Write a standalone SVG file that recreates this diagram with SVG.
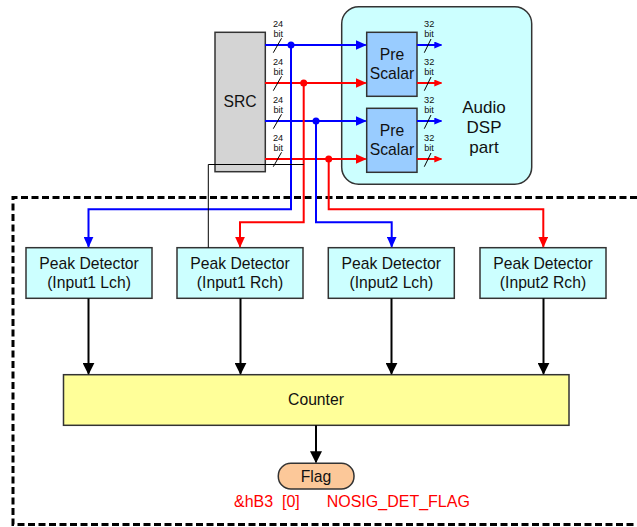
<svg xmlns="http://www.w3.org/2000/svg" width="637" height="527" viewBox="0 0 637 527">
<style>
  text { font-family: "Liberation Sans", Arial, sans-serif; fill: #111; }
  .t { font-size: 15.7px; text-anchor: middle; }
  .big { font-size: 17px; text-anchor: middle; }
  .small { font-size: 9.2px; text-anchor: middle; }
  .red { font-size: 16px; fill: #ff0000; }
  .box { stroke: #333; stroke-width: 1.5; }
  .peak { fill: #ccffff; }
  .blue { stroke: #0000ff; stroke-width: 2; fill: none; }
  .redl { stroke: #ff0000; stroke-width: 2; fill: none; }
  .blk { stroke: #000; stroke-width: 2; fill: none; }
  .thin { stroke: #000; stroke-width: 1; fill: none; }
  .slash { stroke: #000; stroke-width: 1; }
</style>
<defs>
  <marker id="aB" markerUnits="userSpaceOnUse" markerWidth="11" markerHeight="10" refX="10" refY="5" orient="auto"><path d="M0,0 L11,5 L0,10 z" fill="#0000ff"/></marker>
  <marker id="aR" markerUnits="userSpaceOnUse" markerWidth="11" markerHeight="10" refX="10" refY="5" orient="auto"><path d="M0,0 L11,5 L0,10 z" fill="#ff0000"/></marker>
  <marker id="sB" markerUnits="userSpaceOnUse" markerWidth="8" markerHeight="7" refX="7" refY="3.5" orient="auto"><path d="M0,0 L8,3.5 L0,7 z" fill="#0000ff"/></marker>
  <marker id="sR" markerUnits="userSpaceOnUse" markerWidth="8" markerHeight="7" refX="7" refY="3.5" orient="auto"><path d="M0,0 L8,3.5 L0,7 z" fill="#ff0000"/></marker>
  <marker id="aK" markerUnits="userSpaceOnUse" markerWidth="12" markerHeight="12" refX="11" refY="6" orient="auto"><path d="M0,0 L12,6 L0,12 z" fill="#000"/></marker>
</defs>

<!-- dashed frame -->
<path d="M637,197.5 H13 V524.5 H637" fill="none" stroke="#000" stroke-width="3" stroke-dasharray="7 3.5"/>

<g id="audio-dsp">
  <rect x="341.7" y="6.7" width="190" height="177.6" rx="17" fill="#ccffff" class="box"/>
  <text class="big" x="484" y="113">Audio</text>
  <text class="big" x="484" y="133">DSP</text>
  <text class="big" x="484" y="153">part</text>
</g>

<g id="src">
  <rect x="215" y="32.3" width="50.3" height="139.4" fill="#d4d4d4" class="box"/>
  <text class="t" x="240" y="107">SRC</text>
</g>

<g id="prescalar1">
  <rect x="366.7" y="32.3" width="50.3" height="64" fill="#99ccff" class="box"/>
  <text class="t" x="392" y="60">Pre</text>
  <text class="t" x="392" y="79">Scalar</text>
</g>
<g id="prescalar2">
  <rect x="366.7" y="108.3" width="50.3" height="64" fill="#99ccff" class="box"/>
  <text class="t" x="392" y="136">Pre</text>
  <text class="t" x="392" y="155">Scalar</text>
</g>

<g id="peak1">
  <rect x="26" y="247.7" width="126" height="50.6" class="box peak"/>
  <text class="t" x="89" y="269.3">Peak Detector</text>
  <text class="t" x="89" y="288.3">(Input1 Lch)</text>
</g>
<g id="peak2">
  <rect x="177" y="247.7" width="126" height="50.6" class="box peak"/>
  <text class="t" x="240" y="269.3">Peak Detector</text>
  <text class="t" x="240" y="288.3">(Input1 Rch)</text>
</g>
<g id="peak3">
  <rect x="328.3" y="247.7" width="126" height="50.6" class="box peak"/>
  <text class="t" x="391.3" y="269.3">Peak Detector</text>
  <text class="t" x="391.3" y="288.3">(Input2 Lch)</text>
</g>
<g id="peak4">
  <rect x="480" y="247.7" width="126" height="50.6" class="box peak"/>
  <text class="t" x="543" y="269.3">Peak Detector</text>
  <text class="t" x="543" y="288.3">(Input2 Rch)</text>
</g>

<g id="counter">
  <rect x="63.5" y="374.7" width="505.5" height="50.6" fill="#ffff99" class="box"/>
  <text class="t" x="316" y="405.3">Counter</text>
</g>

<g id="flag">
  <rect x="278.3" y="463.3" width="75.7" height="25.7" rx="12.5" fill="#fcc899" class="box"/>
  <text class="t" x="316" y="481.7">Flag</text>
  <text class="red" y="506.7"><tspan x="234">&amp;hB3</tspan><tspan x="282">[0]</tspan></text>
  <text class="red" x="326.7" y="506.7">NOSIG_DET_FLAG</text>
</g>

<g id="connectors">
  <!-- SRC to Pre Scalar -->
  <line class="blue" x1="265" y1="45" x2="365.7" y2="45" marker-end="url(#aB)"/>
  <line class="redl" x1="265" y1="83" x2="365.7" y2="83" marker-end="url(#aR)"/>
  <line class="blue" x1="265" y1="121" x2="365.7" y2="121" marker-end="url(#aB)"/>
  <line class="redl" x1="265" y1="159" x2="365.7" y2="159" marker-end="url(#aR)"/>
  <!-- Pre Scalar outputs -->
  <line class="blue" x1="417" y1="45" x2="441.3" y2="45" marker-end="url(#sB)"/>
  <line class="redl" x1="417" y1="83" x2="441.3" y2="83" marker-end="url(#sR)"/>
  <line class="blue" x1="417" y1="121" x2="441.3" y2="121" marker-end="url(#sB)"/>
  <line class="redl" x1="417" y1="159" x2="441.3" y2="159" marker-end="url(#sR)"/>
  <!-- taps to peak detectors -->
  <path class="blue" d="M291,45 V209.3 H88.5 V246.7" marker-end="url(#aB)"/>
  <path class="redl" d="M303.7,83 V222.3 H240 V246.7" marker-end="url(#aR)"/>
  <path class="blue" d="M316,121 V222.3 H391.7 V246.7" marker-end="url(#aB)"/>
  <path class="redl" d="M328.7,159 V209.3 H543.3 V246.7" marker-end="url(#aR)"/>
  <circle cx="291" cy="45" r="3.5" fill="#0000ff"/>
  <circle cx="303.7" cy="83" r="3.5" fill="#ff0000"/>
  <circle cx="316" cy="121" r="3.5" fill="#0000ff"/>
  <circle cx="328.7" cy="159" r="3.5" fill="#ff0000"/>
  <!-- thin black line -->
  <path class="thin" d="M303.7,164.5 H208.3 V247.7"/>
  <!-- peak detectors to counter -->
  <line class="blk" x1="88.5" y1="298.3" x2="88.5" y2="373.7" marker-end="url(#aK)"/>
  <line class="blk" x1="240.5" y1="298.3" x2="240.5" y2="373.7" marker-end="url(#aK)"/>
  <line class="blk" x1="391.5" y1="298.3" x2="391.5" y2="373.7" marker-end="url(#aK)"/>
  <line class="blk" x1="543.5" y1="298.3" x2="543.5" y2="373.7" marker-end="url(#aK)"/>
  <!-- counter to flag -->
  <line class="blk" x1="316" y1="425.3" x2="316" y2="462.3" marker-end="url(#aK)"/>
</g>

<g id="bit-labels">
  <g class="slash">
    <line x1="273.3" y1="52.7" x2="281.5" y2="38.3"/>
    <line x1="273.3" y1="90.7" x2="281.5" y2="76.3"/>
    <line x1="273.3" y1="128.7" x2="281.5" y2="114.3"/>
    <line x1="273.3" y1="166.7" x2="281.5" y2="152.3"/>
    <line x1="424.3" y1="52.7" x2="431" y2="39"/>
    <line x1="424.3" y1="90.7" x2="431" y2="77"/>
    <line x1="424.3" y1="128.7" x2="431" y2="115"/>
    <line x1="424.3" y1="166.7" x2="431" y2="153"/>
  </g>
  <text class="small"><tspan x="278" y="26.6">24</tspan><tspan x="278.3" dy="10.6">bit</tspan></text>
  <text class="small"><tspan x="278" y="64.6">24</tspan><tspan x="278.3" dy="10.6">bit</tspan></text>
  <text class="small"><tspan x="278" y="102.6">24</tspan><tspan x="278.3" dy="10.6">bit</tspan></text>
  <text class="small"><tspan x="278" y="140.6">24</tspan><tspan x="278.3" dy="10.6">bit</tspan></text>
  <text class="small"><tspan x="429.2" y="26.6">32</tspan><tspan x="429" dy="10.6">bit</tspan></text>
  <text class="small"><tspan x="429.2" y="64.6">32</tspan><tspan x="429" dy="10.6">bit</tspan></text>
  <text class="small"><tspan x="429.2" y="102.6">32</tspan><tspan x="429" dy="10.6">bit</tspan></text>
  <text class="small"><tspan x="429.2" y="140.6">32</tspan><tspan x="429" dy="10.6">bit</tspan></text>
</g>
</svg>
